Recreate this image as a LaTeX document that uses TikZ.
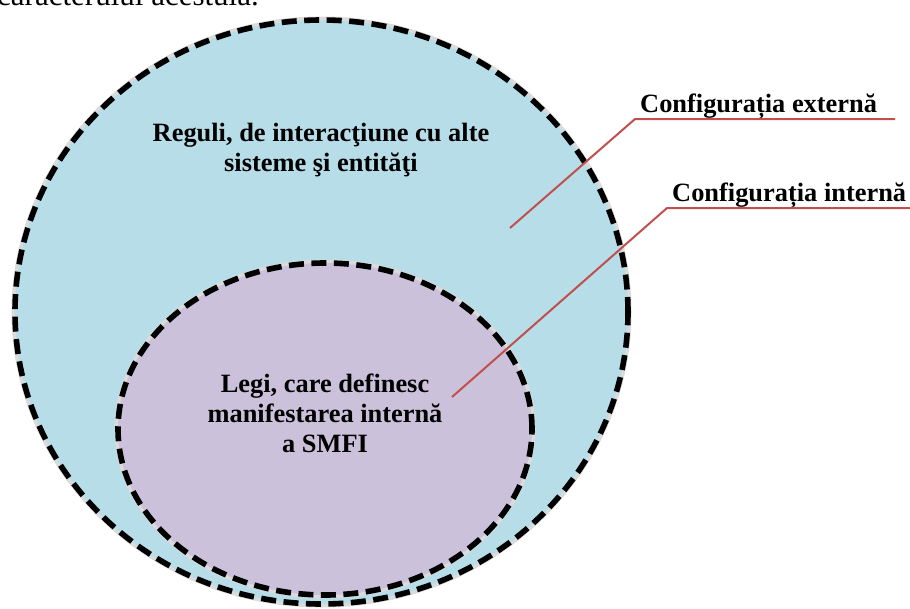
\documentclass[tikz,border=0pt]{standalone}
\usepackage{fontspec}
\setmainfont{Liberation Serif}
\usetikzlibrary{shapes.geometric}
\definecolor{outerfill}{HTML}{B7DDE8}
\definecolor{innerfill}{HTML}{CCC1DA}
\definecolor{leader}{HTML}{C0504D}
\tikzset{
  region/.style={ellipse, inner sep=0pt, outer sep=0pt},
  regionhalo/.style={region, draw=black!14, line width=7pt},
  regionedge/.style={region, draw=black, line width=5.6pt, dash pattern=on 15pt off 7.5pt},
  caption/.style={font=\bfseries\fontsize{26.4}{30}\selectfont, align=center, inner sep=0pt},
  tag/.style={font=\bfseries\fontsize{26.4}{30}\selectfont, inner sep=0pt, anchor=base west},
  leaderline/.style={draw=leader, line width=2pt},
}
\begin{document}
\begin{tikzpicture}[x=1pt, y=-1pt]
  \useasboundingbox (0,0) rectangle (910,608);

  % running text of the page, cut by the top edge
  \node (runtext) [anchor=base west, inner sep=0pt, font=\fontsize{31}{36}\selectfont]
    at (-3,5) {caracterului acestuia.};

  % outer region: external configuration
  \node (outerhalo) [regionhalo, minimum width=613pt, minimum height=584pt] at (321.5,312) {};
  \node (outer) [region, fill=outerfill, minimum width=613pt, minimum height=584pt] at (321.5,312) {};
  \node (outeredge) [regionedge, minimum width=613pt, minimum height=584pt] at (321.5,312) {};

  % inner region: internal configuration
  \node (innerhalo) [regionhalo, minimum width=414pt, minimum height=332pt] at (325,429) {};
  \node (inner) [region, fill=innerfill, minimum width=414pt, minimum height=332pt] at (325,429) {};
  \node (inneredge) [regionedge, minimum width=414pt, minimum height=332pt] at (325,429) {};

  % captions inside the regions
  \node (outertext) [caption] at (321,150) {Reguli, de interacţiune cu alte\\sisteme şi entităţi};
  \node (innertext) [caption] at (325,413) {Legi, care definesc\\manifestarea internă\\a SMFI};

  % leader for the external configuration
  \coordinate (extfoot) at (510,228);
  \coordinate (extknee) at (635,119);
  \coordinate (extend) at (895,119);
  \node (extlabel) [tag] at (640,112) {Configurația externă};
  \draw[leaderline] (extfoot) -- (extknee) -- (extend);

  % leader for the internal configuration
  \coordinate (intfoot) at (452,397);
  \coordinate (intknee) at (667,208);
  \coordinate (intend) at (912,208);
  \node (intlabel) [tag] at (672,201) {Configurația internă};
  \draw[leaderline] (intfoot) -- (intknee) -- (intend);
\end{tikzpicture}
\end{document}
